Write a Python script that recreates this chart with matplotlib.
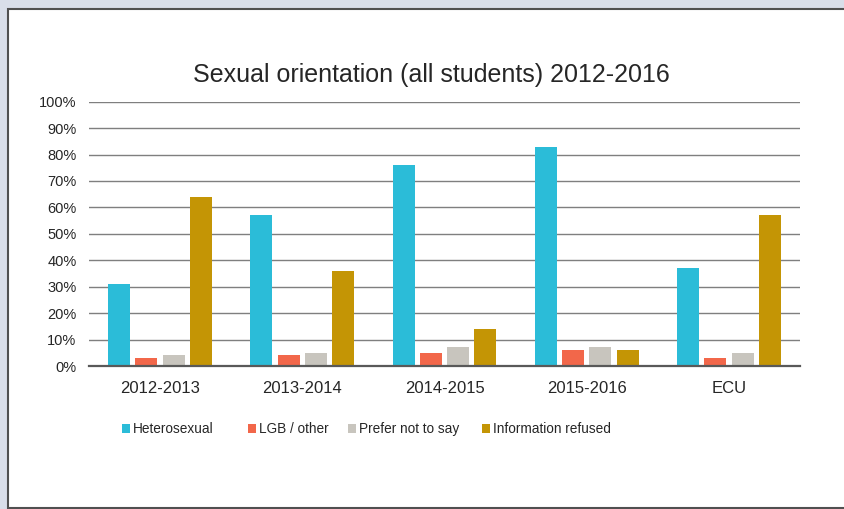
import numpy as np
import matplotlib
matplotlib.use('Agg')
from matplotlib import pyplot as plt
from matplotlib.patches import Rectangle, Patch

plt.rcParams['font.family'] = ['Liberation Sans', 'DejaVu Sans']

years = ['2012-2013', '2013-2014', '2014-2015', '2015-2016', 'ECU']
heterosexual = [31, 57, 76, 83, 37]
lgb_other = [3, 4, 5, 6, 3]
prefer_not = [4, 5, 7, 7, 5]
refused = [64, 36, 14, 6, 57]

series = [
    ('Heterosexual', heterosexual, '#2bbcd8'),
    ('LGB / other', lgb_other, '#f2674a'),
    ('Prefer not to say', prefer_not, '#c8c5be'),
    ('Information refused', refused, '#c49505'),
]

fig = plt.figure(figsize=(8.45, 5.09), dpi=100)
fig.patch.set_facecolor('#d9dee9')

# white chart panel with a dark frame (open on the right)
W, H = 845, 509
panel = Rectangle((8.5 / W, 1 - 508 / H), 1.0, (508 - 9) / H,
                  transform=fig.transFigure, facecolor='white',
                  edgecolor='#505050', linewidth=1.5, zorder=-10)
fig.patches.append(panel)

ax = fig.add_axes([89 / W, 1 - 366 / H, 711 / W, 264.3 / H])
ax.set_facecolor('none')

x = np.arange(len(years))
pitch = 0.192
width = 0.155
for i, (name, vals, color) in enumerate(series):
    ax.bar(x + (i - 1.5) * pitch, np.array(vals) / 100, width,
           color=color, zorder=3, label=name)

ax.set_xlim(-0.5, len(years) - 0.5)
ax.set_ylim(0, 1)
ax.set_yticks(np.arange(0, 1.01, 0.1))
ax.set_yticklabels([f'{int(round(v * 100))}%' for v in np.arange(0, 1.01, 0.1)])
ax.set_xticks(x)
ax.set_xticklabels(years)
ax.tick_params(axis='both', length=0, colors='#262626')
ax.tick_params(axis='y', pad=9, labelsize=10.5)
ax.tick_params(axis='x', pad=11, labelsize=12)
ax.grid(axis='y', color='#7f7f7f', linewidth=1.0, zorder=1)
for side in ['top', 'right', 'left']:
    ax.spines[side].set_visible(False)
ax.spines['bottom'].set_color('#595959')
ax.spines['bottom'].set_linewidth(1.6)
ax.spines['bottom'].set_zorder(4)

fig.text(431 / W, 1 - 75 / H, 'Sexual orientation (all students) 2012-2016',
         ha='center', va='center', fontsize=18, color='#262626')

# legend entries spaced like the original
legend_x = [122, 248, 348, 482]
for (name, vals, color), lx in zip(series, legend_x):
    leg = fig.legend(handles=[Patch(facecolor=color, edgecolor='none')],
                     labels=[name], loc='center left',
                     bbox_to_anchor=(lx / W, 1 - 429 / H), frameon=False,
                     fontsize=9.8, handlelength=0.6, handleheight=0.6,
                     handletextpad=0.2, borderpad=0, borderaxespad=0)
    for t in leg.get_texts():
        t.set_color('#262626')

fig.savefig('out.png', dpi=100, facecolor=fig.get_facecolor())
